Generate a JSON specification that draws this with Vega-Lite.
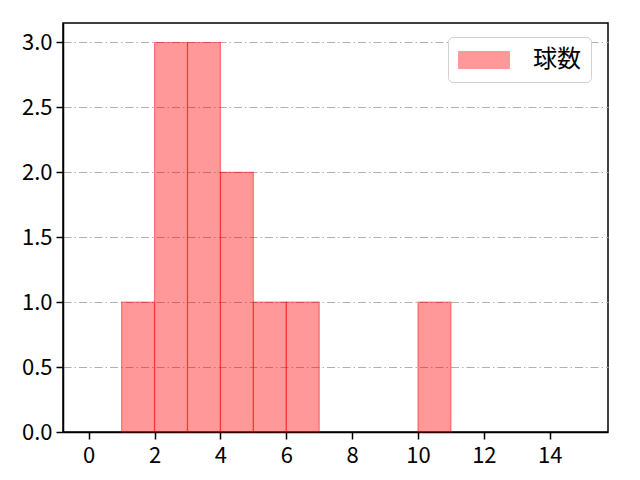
{
  "$schema": "https://vega.github.io/schema/vega-lite/v6.json",
  "width": 545,
  "height": 409,
  "autosize": "none",
  "padding": {"left": 63, "top": 23, "right": 32, "bottom": 48},
  "background": "white",
  "config": {
    "view": {"stroke": "#000000", "strokeWidth": 1.5},
    "font": "Noto Sans CJK JP",
    "axis": {
      "labelFont": "Noto Sans CJK JP",
      "labelFontSize": 22,
      "labelColor": "#000000",
      "domainColor": "#000000",
      "domainWidth": 1.5,
      "tickColor": "#000000",
      "tickSize": 7,
      "tickWidth": 1.5
    }
  },
  "data": {
    "values": [
      {"bin_start": 1, "bin_end": 2, "count": 1, "label": "球数"},
      {"bin_start": 2, "bin_end": 3, "count": 3, "label": "球数"},
      {"bin_start": 3, "bin_end": 4, "count": 3, "label": "球数"},
      {"bin_start": 4, "bin_end": 5, "count": 2, "label": "球数"},
      {"bin_start": 5, "bin_end": 6, "count": 1, "label": "球数"},
      {"bin_start": 6, "bin_end": 7, "count": 1, "label": "球数"},
      {"bin_start": 10, "bin_end": 11, "count": 1, "label": "球数"}
    ]
  },
  "mark": {"type": "bar", "fillOpacity": 0.4, "stroke": "#ff0000", "strokeOpacity": 0.45, "strokeWidth": 1.2},
  "encoding": {
    "x": {
      "field": "bin_start", "type": "quantitative",
      "scale": {"domain": [-0.78, 15.77], "nice": false, "zero": false},
      "axis": {"values": [0, 2, 4, 6, 8, 10, 12, 14], "title": null, "grid": false, "labelPadding": 6}
    },
    "x2": {"field": "bin_end"},
    "y": {
      "field": "count", "type": "quantitative",
      "scale": {"domain": [0, 3.15], "nice": false},
      "axis": {
        "values": [0, 0.5, 1, 1.5, 2, 2.5, 3], "format": ".1f", "title": null, "labelPadding": 4,
        "grid": true, "gridColor": "#b0b0b0", "gridDash": [8, 3, 1.5, 3], "gridWidth": 1.1
      }
    },
    "y2": {"datum": 0},
    "color": {
      "field": "label", "type": "nominal",
      "scale": {"domain": ["球数"], "range": ["#ff0000"]},
      "legend": {
        "title": null,
        "orient": "none",
        "legendX": 385,
        "legendY": 14,
        "symbolType": "M-1,-0.7H3V0.7H-1Z",
        "symbolSize": 676,
        "symbolOpacity": 0.4,
        "symbolStrokeWidth": 0,
        "labelFont": "Noto Sans CJK JP",
        "labelFontSize": 24,
        "labelColor": "#000000",
        "labelOffset": 49,
        "padding": 10,
        "fillColor": "#ffffff",
        "strokeColor": "#d0d0d0",
        "cornerRadius": 5
      }
    }
  }
}
